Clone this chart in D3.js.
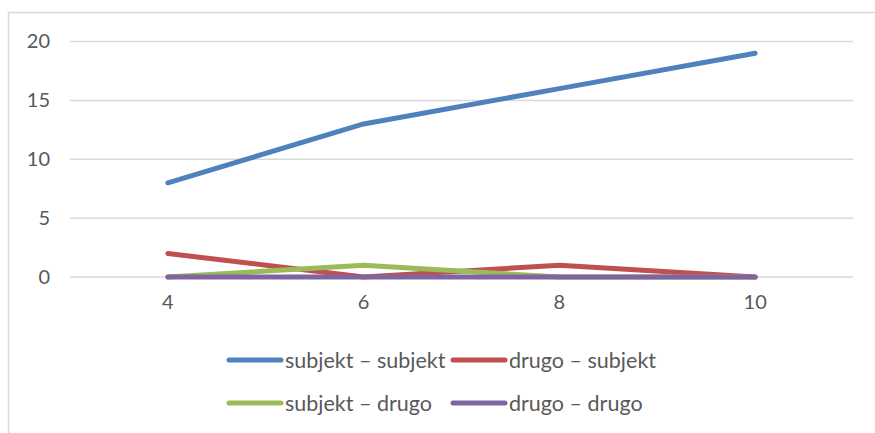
<!DOCTYPE html>
<html>
<head>
<meta charset="utf-8">
<script src="https://cdn.jsdelivr.net/npm/d3@7"></script>
<style>
  html, body { margin: 0; padding: 0; background: #fff; }
  svg { display: block; }
  text { font-family: Lato, "Liberation Sans", sans-serif; fill: #595959; }
</style>
</head>
<body>
<svg id="chart" width="875" height="433"></svg>
<script>
// Categories along the x axis
const categories = ["4", "6", "8", "10"];

// Series values per category
const subjektSubjekt = [8, 13, 16, 19];
const drugoSubjekt   = [2, 0, 1, 0];
const subjektDrugo   = [0, 1, 0, 0];
const drugoDrugo     = [0, 0, 0, 0];

// Y axis ticks
const yTicks = [0, 5, 10, 15, 20];

const seriesNames  = ["subjekt – subjekt", "drugo – subjekt", "subjekt – drugo", "drugo – drugo"];
const seriesValues = [subjektSubjekt, drugoSubjekt, subjektDrugo, drugoDrugo];
const seriesColors = ["#4F81BD", "#C0504D", "#9BBB59", "#8064A2"];

const svg = d3.select("#chart");

// Outer chart frame (left and top edges visible)
svg.append("rect")
  .attr("x", 8.5).attr("y", 12.5)
  .attr("width", 900).attr("height", 440)
  .attr("fill", "none").attr("stroke", "#d9d9d9").attr("stroke-width", 1.5);

const plot = { left: 70, right: 853, top: 41.5, bottom: 277 };

const x = d3.scaleBand().domain(categories).range([plot.left, plot.right]);
const y = d3.scaleLinear().domain([0, 20]).range([plot.bottom, plot.top]);

// Horizontal gridlines
svg.append("g")
  .selectAll("line")
  .data(yTicks)
  .join("line")
  .attr("x1", plot.left).attr("x2", plot.right)
  .attr("y1", d => y(d)).attr("y2", d => y(d))
  .attr("stroke", "#d9d9d9").attr("stroke-width", 1.5);

// Y axis labels
const yAxis = d3.axisLeft(y).tickValues(yTicks).tickSize(0).tickPadding(0);
svg.append("g")
  .attr("transform", `translate(${plot.left - 20},0)`)
  .call(yAxis)
  .call(g => g.select(".domain").remove())
  .call(g => g.selectAll("text")
    .attr("font-size", 20).attr("font-family", null).attr("fill", "#595959"));

// X axis labels
const xAxis = d3.axisBottom(x).tickSize(0).tickPadding(0);
svg.append("g")
  .attr("transform", `translate(0,${plot.bottom + 18})`)
  .call(xAxis)
  .call(g => g.select(".domain").remove())
  .call(g => g.selectAll("text")
    .attr("font-size", 20).attr("font-family", null).attr("fill", "#595959"));

// Series lines
const line = d3.line()
  .x((d, i) => x(categories[i]) + x.bandwidth() / 2)
  .y(d => y(d));

svg.append("g")
  .selectAll("path")
  .data(seriesValues)
  .join("path")
  .attr("d", d => line(d))
  .attr("fill", "none")
  .attr("stroke", (d, i) => seriesColors[i])
  .attr("stroke-width", 5)
  .attr("stroke-linejoin", "round")
  .attr("stroke-linecap", "round");

// Legend: two rows of two entries
const legendPos = [
  { x: 227, y: 360 }, { x: 451, y: 360 },
  { x: 227, y: 403 }, { x: 451, y: 403 }
];
const legend = svg.append("g")
  .selectAll("g")
  .data(seriesNames)
  .join("g")
  .attr("transform", (d, i) => `translate(${legendPos[i].x},${legendPos[i].y})`);

legend.append("line")
  .attr("x1", 2).attr("x2", 54)
  .attr("stroke", (d, i) => seriesColors[i])
  .attr("stroke-width", 5)
  .attr("stroke-linecap", "round");

legend.append("text")
  .attr("x", 58)
  .attr("dy", "0.35em")
  .attr("font-size", 21.5)
  .text(d => d);
</script>
</body>
</html>
